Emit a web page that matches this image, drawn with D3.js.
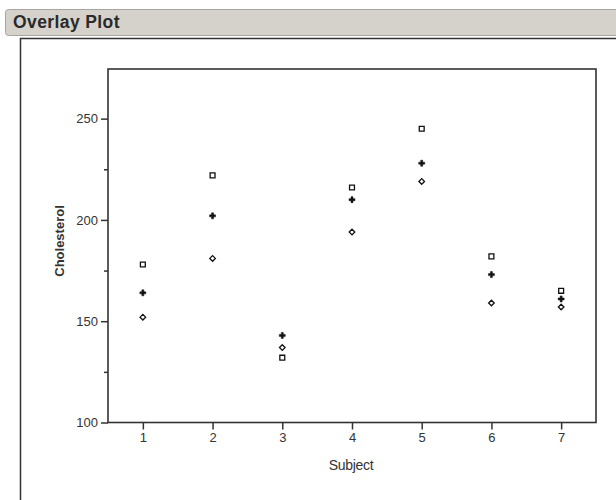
<!DOCTYPE html>
<html>
<head>
<meta charset="utf-8">
<script src="https://cdn.jsdelivr.net/npm/d3@7"></script>
<style>
  body { margin: 0; background: #fff; }
  svg { display: block; font-family: "Liberation Sans", Arial, sans-serif; }
</style>
</head>
<body>
<svg width="616" height="500"></svg>
<script>
  // chart data
  var subjects = [1, 2, 3, 4, 5, 6, 7];
  var seriesSquare  = [178, 222, 132, 216, 245, 182, 165];
  var seriesPlus    = [164, 202, 143, 210, 228, 173, 161];
  var seriesDiamond = [152, 181, 137, 194, 219, 159, 157];
  var yTicks = [100, 150, 200, 250];
  var yMinor = [125, 175, 225];

  var svg = d3.select("svg");

  // title bar
  svg.append("rect")
      .attr("x", 5.5).attr("y", 9.5)
      .attr("width", 620).attr("height", 26)
      .attr("rx", 3)
      .attr("fill", "#d5d2cc")
      .attr("stroke", "#a8a5a0");
  svg.append("text")
      .attr("x", 13).attr("y", 28)
      .attr("font-size", 17.5)
      .attr("letter-spacing", 0.4)
      .attr("font-weight", "bold")
      .attr("fill", "#2a2a2a")
      .text("Overlay Plot");

  // panel outline
  svg.append("path")
      .attr("d", "M20.5,500 V38.5 H616")
      .attr("fill", "none")
      .attr("stroke", "#333")
      .attr("stroke-width", 1.5);

  var x = d3.scaleLinear().domain([0.5, 7.5]).range([108, 596]);
  var y = d3.scaleLinear().domain([100, 274.5]).range([422.5, 69]);

  // frame
  svg.append("rect")
      .attr("x", x.range()[0]).attr("y", y.range()[1])
      .attr("width", x.range()[1] - x.range()[0])
      .attr("height", y.range()[0] - y.range()[1])
      .attr("fill", "none")
      .attr("stroke", "#333")
      .attr("stroke-width", 1.6);

  var xAxis = svg.append("g")
      .attr("transform", "translate(0," + y.range()[0] + ")")
      .call(d3.axisBottom(x).tickValues(subjects).tickSize(7).tickPadding(3).tickFormat(d3.format("d")));
  xAxis.select(".domain").remove();

  var yAxis = svg.append("g")
      .attr("transform", "translate(" + x.range()[0] + ",0)")
      .call(d3.axisLeft(y).tickValues(yTicks).tickSize(7).tickPadding(3));
  yAxis.select(".domain").remove();

  svg.append("g")
      .attr("transform", "translate(" + x.range()[0] + ",0)")
      .call(d3.axisLeft(y).tickValues(yMinor).tickSize(4).tickFormat(""))
    .select(".domain").remove();

  svg.selectAll(".tick line").attr("stroke", "#333").attr("stroke-width", 1.5);
  svg.selectAll(".tick text")
      .attr("font-size", 13)
      .attr("font-family", "'Liberation Sans', Arial, sans-serif")
      .attr("fill", "#333");

  // axis titles
  svg.append("text")
      .attr("x", 351).attr("y", 470)
      .attr("text-anchor", "middle")
      .attr("font-size", 14)
      .attr("letter-spacing", -0.3)
      .attr("fill", "#333")
      .text("Subject");
  svg.append("text")
      .attr("transform", "translate(64,241) rotate(-90)")
      .attr("text-anchor", "middle")
      .attr("font-size", 13)
      .attr("font-weight", "bold")
      .attr("fill", "#333")
      .text("Cholesterol");

  function plotSeries(values, type, size, filled) {
    var sym = d3.symbol().type(type).size(size);
    svg.append("g").selectAll("path")
      .data(values)
      .enter().append("path")
        .attr("transform", function(d, i) { return "translate(" + x(subjects[i]) + "," + y(d) + ")"; })
        .attr("d", sym)
        .attr("fill", filled ? "#111" : "#fff")
        .attr("stroke", "#111")
        .attr("stroke-width", filled ? 0.5 : 1.3);
  }

  plotSeries(seriesSquare, d3.symbolSquare, 24, false);
  plotSeries(seriesPlus, d3.symbolCross, 20, true);
  plotSeries(seriesDiamond, d3.symbolDiamond2, 20, false);
</script>
</body>
</html>
